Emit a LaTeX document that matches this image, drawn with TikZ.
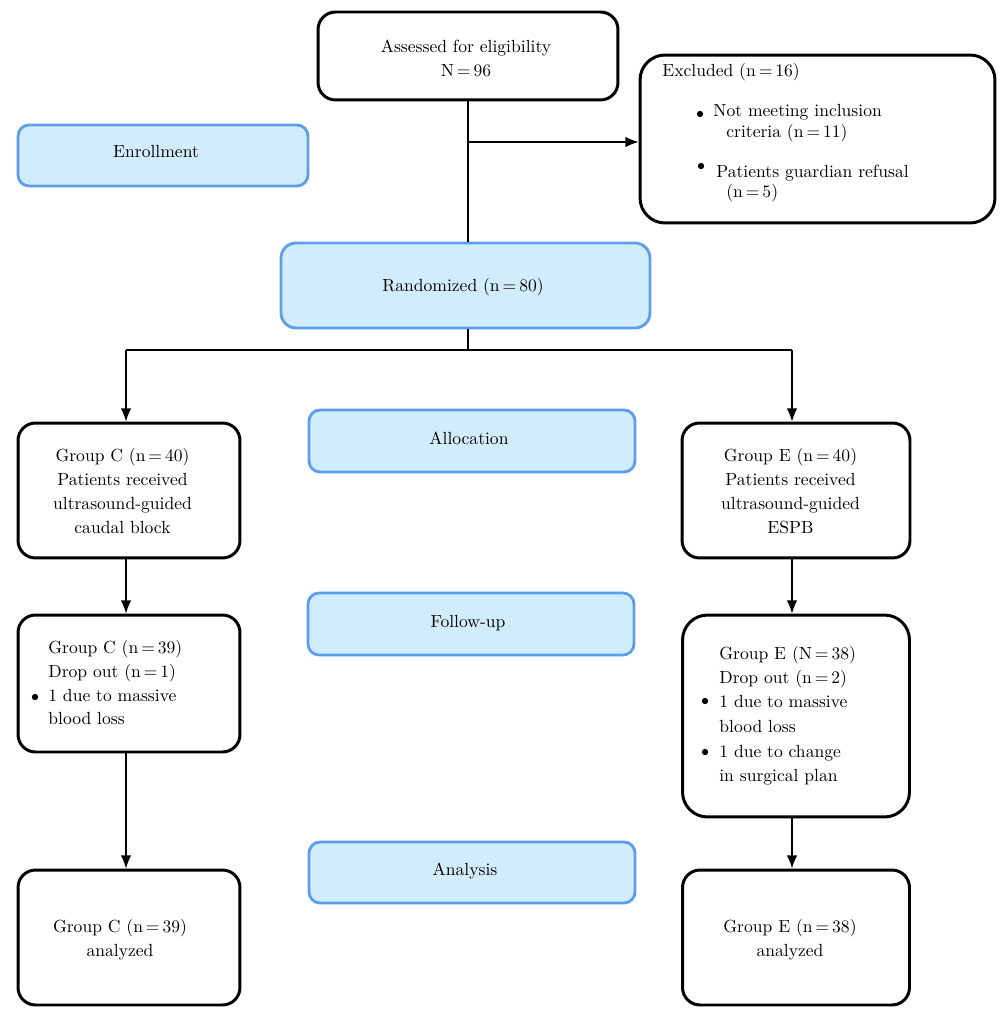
\documentclass[tikz,border=0pt]{standalone}
\usetikzlibrary{arrows.meta}
\definecolor{bfill}{RGB}{209,237,252}
\definecolor{bdraw}{RGB}{94,158,232}
\begin{document}
\begin{tikzpicture}[x=0.02cm,y=-0.02cm,
  wbox/.style={draw=black,line width=1.7pt,rounded corners=0.35cm,inner sep=0pt,fill=white},
  bbox/.style={draw=bdraw,fill=bfill,line width=1.6pt,rounded corners=0.22cm,inner sep=0pt},
  txt/.style={font=\fontsize{10pt}{13.6pt}\selectfont,align=center,inner sep=0pt},
  ltxt/.style={font=\fontsize{10pt}{13.6pt}\selectfont,inner sep=0pt,anchor=base west},
  bul/.style={circle,fill=black,inner sep=0pt,minimum size=3.6pt},
  conn/.style={line width=0.8pt},
  arr/.style={line width=0.8pt,-{Latex[length=7.5pt,width=6pt]}}]
\useasboundingbox (0,0) rectangle (1000,1016);

% boxes
\node[wbox,minimum width=6cm,minimum height=1.76cm] (assess) at (468,56) {};
\node[wbox,rounded corners=0.5cm,minimum width=7.1cm,minimum height=3.36cm] (excl) at (817.5,139) {};
\node[bbox,minimum width=5.8cm,minimum height=1.22cm] (enrol) at (163,155.5) {};
\node[bbox,rounded corners=0.3cm,minimum width=7.38cm,minimum height=1.7cm] (rand) at (465.5,285.5) {};
\node[wbox,minimum width=4.44cm,minimum height=2.7cm] (c1) at (129,490.5) {};
\node[wbox,minimum width=4.56cm,minimum height=2.7cm] (e1) at (796,490.5) {};
\node[bbox,minimum width=6.52cm,minimum height=1.24cm] (alloc) at (472,441) {};
\node[bbox,minimum width=6.52cm,minimum height=1.24cm] (follow) at (471,624) {};
\node[wbox,minimum width=4.44cm,minimum height=2.74cm] (c2) at (129,683.5) {};
\node[wbox,rounded corners=0.5cm,minimum width=4.54cm,minimum height=4.04cm] (e2) at (796,716) {};
\node[bbox,minimum width=6.52cm,minimum height=1.22cm] (anal) at (472,872.5) {};
\node[wbox,minimum width=4.44cm,minimum height=2.7cm] (c3) at (129,937.5) {};
\node[wbox,minimum width=4.54cm,minimum height=2.7cm] (e3) at (796,937.5) {};

% texts
\node[txt] (tassess) at (466,58) {Assessed for eligibility\\N\,=\,96};
\node[ltxt] (tex0) at (662,77) {Excluded (n\,=\,16)};
\node[bul] (bx1) at (700,114) {};
\node[ltxt] (tex1) at (713,117) {Not meeting inclusion};
\node[ltxt] (tex2) at (726,138) {criteria (n\,=\,11)};
\node[bul] (bx2) at (701,166) {};
\node[ltxt] (tex3) at (716,178) {Patients guardian refusal};
\node[ltxt] (tex4) at (726,198) {(n\,=\,5)};
\node[txt] (tenrol) at (156,152) {Enrollment};
\node[txt] (trand) at (463,287) {Randomized (n\,=\,80)};
\node[txt] (talloc) at (469,438) {Allocation};
\node[txt] (tfollow) at (468,623) {Follow-up};
\node[txt] (tanal) at (465,871) {Analysis};
\node[txt] (tc1) at (122.5,491) {Group C (n\,=\,40)\\Patients received\\ultrasound-guided\\caudal block};
\node[txt] (te1) at (790.5,491) {Group E (n\,=\,40)\\Patients received\\ultrasound-guided\\ESPB};
\node[ltxt] (tc2a) at (48,653) {Group C (n\,=\,39)};
\node[ltxt] (tc2b) at (48,677) {Drop out (n\,=\,1)};
\node[bul] (bc1) at (35,697) {};
\node[ltxt] (tc2c) at (48,701) {1 due to massive};
\node[ltxt] (tc2d) at (48,724) {blood loss};
\node[ltxt] (te2a) at (719,659) {Group E (N\,=\,38)};
\node[ltxt] (te2b) at (719,683) {Drop out (n\,=\,2)};
\node[bul] (be1) at (705,701) {};
\node[ltxt] (te2c) at (719,707) {1 due to massive};
\node[ltxt] (te2d) at (719,732) {blood loss};
\node[bul] (be2) at (705,752) {};
\node[ltxt] (te2e) at (719,757) {1 due to change};
\node[ltxt] (te2f) at (719,781) {in surgical plan};
\node[txt] (tc3) at (120,940) {Group C (n\,=\,39)\\analyzed};
\node[txt] (te3) at (790,940) {Group E (n\,=\,38)\\analyzed};

% connectors
\coordinate (br) at (468,142);
\coordinate (sp) at (468,350);
\coordinate (sL) at (126,350);
\coordinate (sR) at (792,350);
\draw[conn] (assess.south -| br) -- (br |- rand.north);
\draw[arr] (br) -- (br -| excl.west);
\draw[conn] (rand.south -| sp) -- (sp);
\draw[conn] (sL) -- (sR);
\draw[arr] (sL) -- (sL |- c1.north);
\draw[arr] (sR) -- (sR |- e1.north);
\draw[arr] (c1.south -| sL) -- (sL |- c2.north);
\draw[arr] (c2.south -| sL) -- (sL |- c3.north);
\draw[arr] (e1.south -| sR) -- (sR |- e2.north);
\draw[arr] (e2.south -| sR) -- (sR |- e3.north);
\end{tikzpicture}
\end{document}
